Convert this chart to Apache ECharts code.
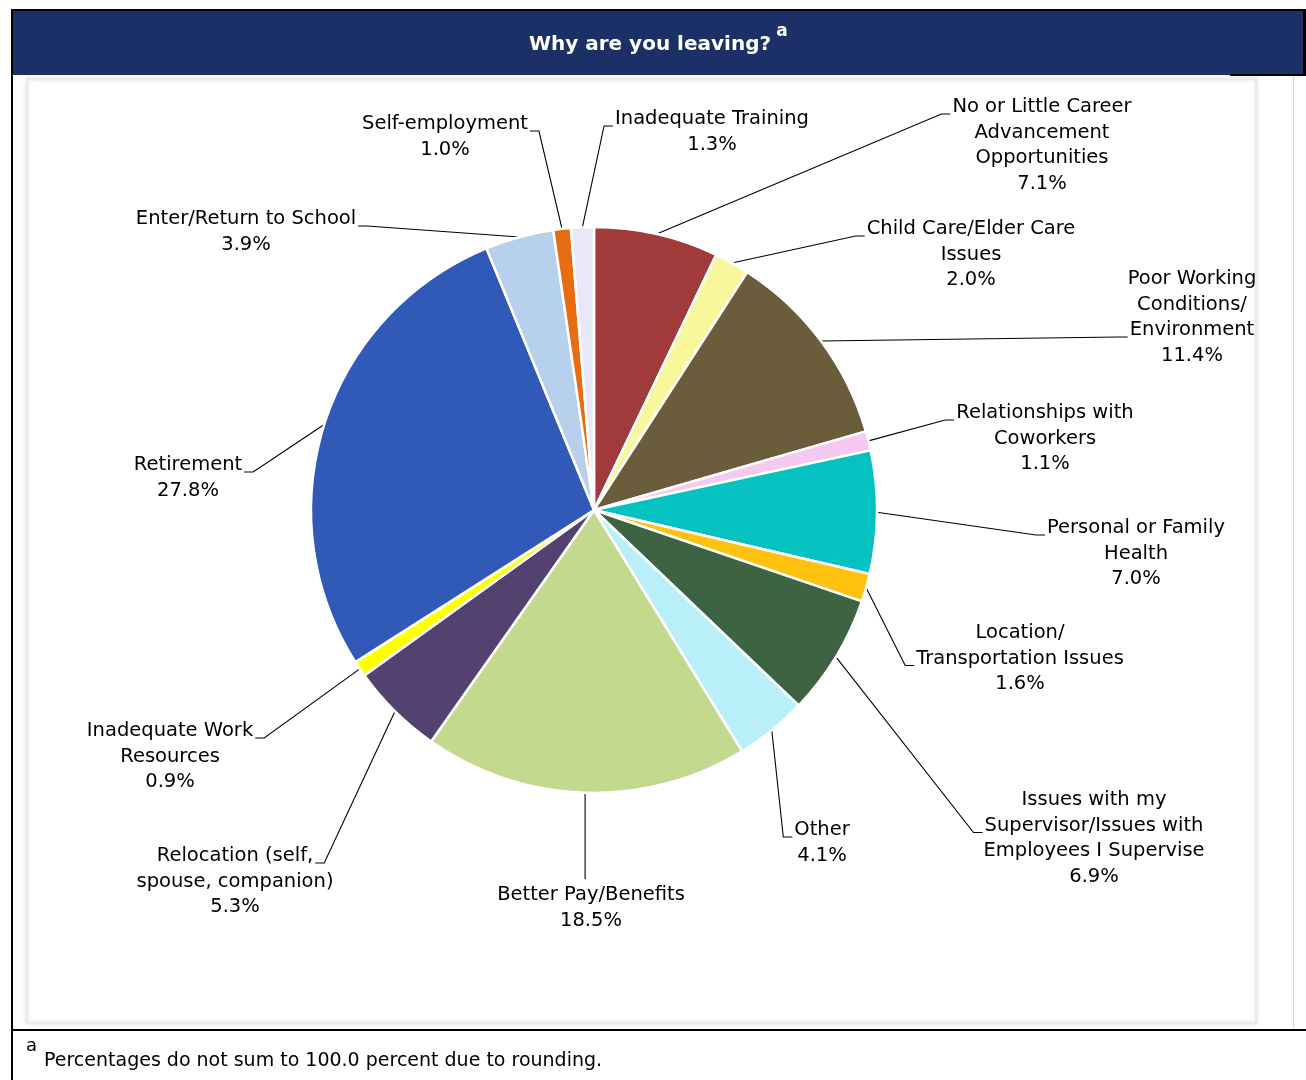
<!DOCTYPE html>
<html>
<head>
<meta charset="utf-8">
<title>Why are you leaving?</title>
<script src="https://cdn.jsdelivr.net/npm/echarts@6/dist/echarts.min.js"></script>
<style>
  html, body { margin: 0; padding: 0; background: #ffffff; }
  #chart { width: 1306px; height: 1080px; }
</style>
</head>
<body>
<div id="chart"></div>
<script>
// Reasons for leaving, clockwise from 12 o'clock
const reasons = [
  'No or Little Career\nAdvancement\nOpportunities',
  'Child Care/Elder Care\nIssues',
  'Poor Working\nConditions/\nEnvironment',
  'Relationships with\nCoworkers',
  'Personal or Family\nHealth',
  'Location/\nTransportation Issues',
  'Issues with my\nSupervisor/Issues with\nEmployees I Supervise',
  'Other',
  'Better Pay/Benefits',
  'Relocation (self,\nspouse, companion)',
  'Inadequate Work\nResources',
  'Retirement',
  'Enter/Return to School',
  'Self-employment',
  'Inadequate Training'
];

// Share of respondents, percent
const shares = [7.1, 2.0, 11.4, 1.1, 7.0, 1.6, 6.9, 4.1, 18.5, 5.3, 0.9, 27.8, 3.9, 1.0, 1.3];

const sliceColors = [
  '#a03a3b', '#f8f79c', '#6b5d3b', '#f6c9f1', '#05c1bf',
  '#ffc20e', '#3d6343', '#b9eff9', '#c3d98d', '#534170',
  '#ffff00', '#3159b7', '#b7d0eb', '#e86d12', '#e9e8fa'
];

// Label placement: [centre x, first-line centre y, side the leader joins, line it joins]
const labelSpots = [
  [1042, 107, 'left', 0],
  [971, 229, 'left', 0],
  [1192, 279, 'left', 2],
  [1045, 413, 'left', 0],
  [1136, 528, 'left', 0],
  [1020, 633, 'left', 1],
  [1094, 800, 'left', 1],
  [822, 830, 'left', 0],
  [591, 895, 'top', 0],
  [235, 856, 'right', 0],
  [170, 731, 'right', 0],
  [188, 465, 'right', 0],
  [246, 219, 'right', 0],
  [445, 124, 'right', 0],
  [712, 119, 'left', 0]
];

const FONT = '"DejaVu Sans", Verdana, sans-serif';
const LABEL_SIZE = 19.5;
const LINE_H = 25.5;

const measureCtx = document.createElement('canvas').getContext('2d');
measureCtx.font = LABEL_SIZE + 'px ' + FONT;
function textWidth(s) { return measureCtx.measureText(s).width; }

function labelLines(i) {
  return (reasons[i] + '\n' + shares[i].toFixed(1) + '%').split('\n');
}

const chart = echarts.init(document.getElementById('chart'), null, { renderer: 'canvas' });

const option = {
  backgroundColor: '#ffffff',
  animation: false,
  graphic: [
    // plot frame with a soft edge
    { type: 'rect', silent: true, z: -10,
      shape: { x: 27, y: 79, width: 1229, height: 944 },
      style: { fill: '#ffffff', stroke: '#ececec', lineWidth: 3,
               shadowBlur: 6, shadowColor: 'rgba(0,0,0,0.06)' } },
    { type: 'line', silent: true, z: -5,
      shape: { x1: 1293.5, y1: 76, x2: 1293.5, y2: 1028 },
      style: { stroke: '#d4d4d4', lineWidth: 1 } },
    // title banner
    { type: 'rect', silent: true,
      shape: { x: 11, y: 9, width: 1295, height: 2 }, style: { fill: '#000' } },
    { type: 'rect', silent: true,
      shape: { x: 13, y: 11, width: 1293, height: 64 }, style: { fill: '#1b3067' } },
    { type: 'rect', silent: true,
      shape: { x: 1303, y: 11, width: 3, height: 65 }, style: { fill: '#000' } },
    { type: 'rect', silent: true,
      shape: { x: 1230, y: 74, width: 76, height: 2 }, style: { fill: '#000' } },
    { type: 'text', silent: true,
      style: { text: 'Why are you leaving?', x: 650, y: 45, align: 'center', verticalAlign: 'middle',
               font: 'bold 20px ' + FONT, fill: '#ffffff' } },
    { type: 'text', silent: true,
      style: { text: 'a', x: 782, y: 32, align: 'center', verticalAlign: 'middle',
               font: 'bold 17px ' + FONT, fill: '#ffffff' } },
    // outer rules
    { type: 'rect', silent: true,
      shape: { x: 11, y: 9, width: 2, height: 1071 }, style: { fill: '#000' } },
    { type: 'rect', silent: true,
      shape: { x: 11, y: 1029, width: 1295, height: 2 }, style: { fill: '#000' } },
    // footnote
    { type: 'text', silent: true,
      style: { text: 'a', x: 26, y: 1046, align: 'left', verticalAlign: 'middle',
               font: '18px ' + FONT, fill: '#000' } },
    { type: 'text', silent: true,
      style: { text: 'Percentages do not sum to 100.0 percent due to rounding.', x: 44, y: 1061,
               align: 'left', verticalAlign: 'middle', font: '19px ' + FONT, fill: '#000' } }
  ],
  series: [{
    type: 'pie',
    center: [594, 510],
    radius: 283,
    startAngle: 90,
    clockwise: true,
    avoidLabelOverlap: false,
    silent: true,
    data: reasons.map((name, i) => ({
      name: name,
      value: shares[i],
      itemStyle: { color: sliceColors[i] }
    })),
    itemStyle: { borderColor: '#ffffff', borderWidth: 2.5 },
    label: {
      show: true,
      position: 'outside',
      formatter: p => p.name + '\n' + p.value.toFixed(1) + '%',
      fontFamily: FONT,
      fontSize: LABEL_SIZE,
      lineHeight: LINE_H,
      color: '#000000',
      align: 'center',
      overflow: 'none'
    },
    labelLine: {
      show: true,
      length: 10,
      length2: 10,
      smooth: false,
      lineStyle: { color: '#000000', width: 1.1 }
    },
    labelLayout: function (params) {
      const i = params.dataIndex;
      const spot = labelSpots[i];
      const cx = spot[0];
      const top = spot[1] - LINE_H / 2;
      const out = { x: cx, y: top, align: 'center', verticalAlign: 'top' };
      const pts = params.labelLinePoints;
      if (pts && pts.length) {
        const edge = pts[0];
        const lines = labelLines(i);
        const ln = spot[3];
        const y = top + ln * LINE_H + LINE_H / 2 + 7;
        const half = textWidth(lines[ln]) / 2;
        if (spot[2] === 'left') {
          const x = cx - half - 2;
          out.labelLinePoints = [edge, [x - 9, y], [x, y]];
        } else if (spot[2] === 'right') {
          const x = cx + half + 2;
          out.labelLinePoints = [edge, [x + 9, y], [x, y]];
        } else {
          out.labelLinePoints = [edge, [edge[0], (edge[1] + top) / 2], [edge[0], top - 3]];
        }
      }
      return out;
    }
  }]
};

chart.setOption(option);
</script>
</body>
</html>
